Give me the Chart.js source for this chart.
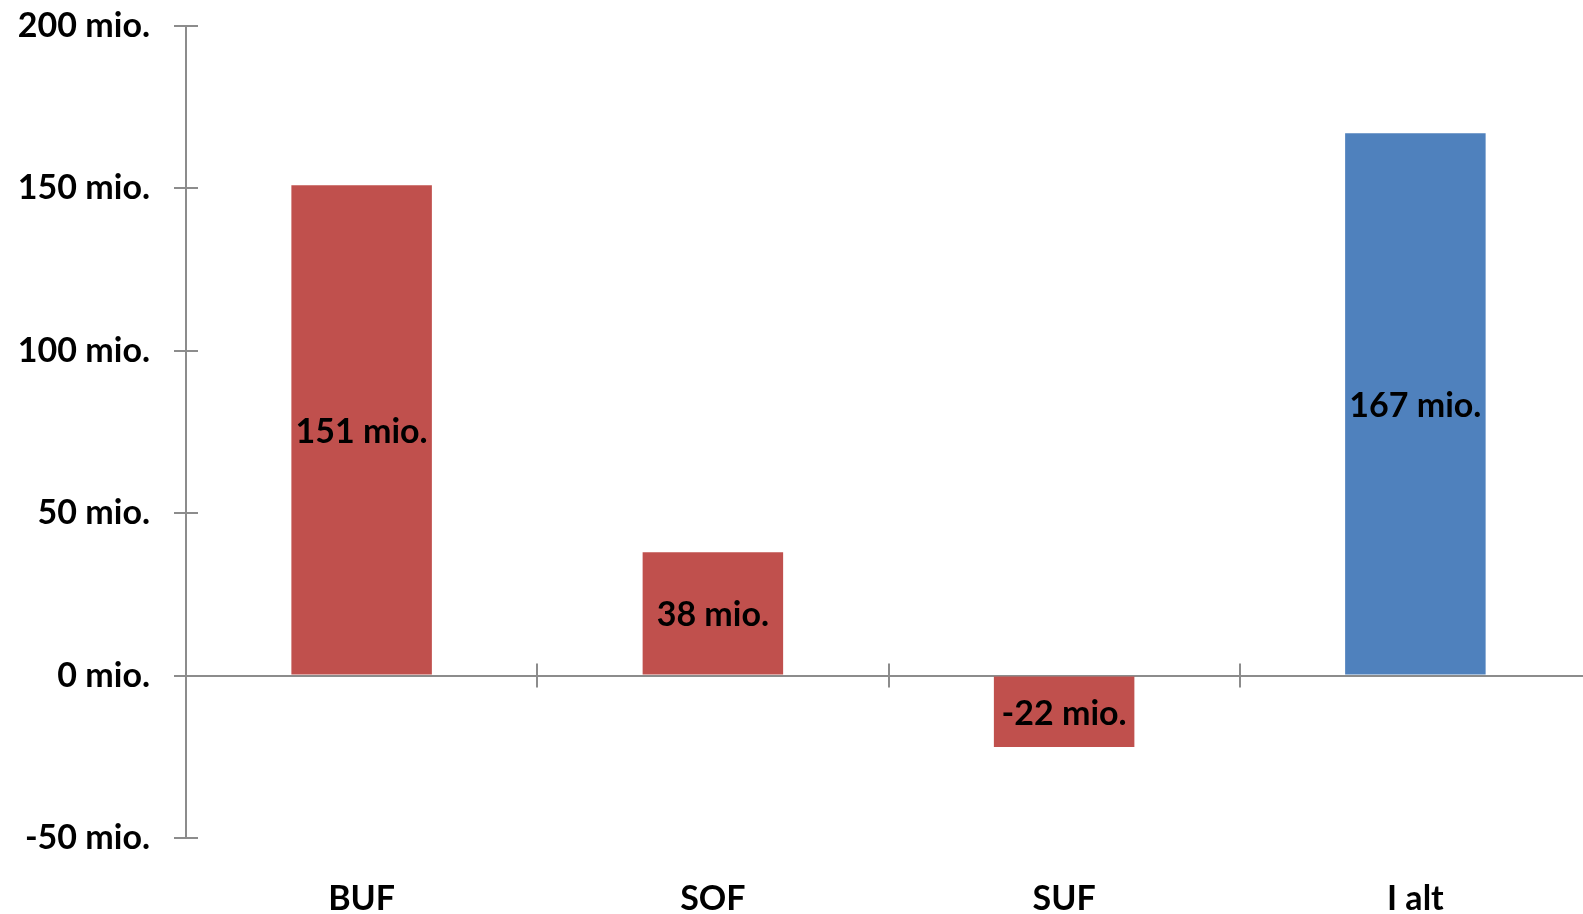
<!DOCTYPE html>
<html>
<head>
<meta charset="utf-8">
<script src="https://cdn.jsdelivr.net/npm/chart.js@4/dist/chart.umd.min.js"></script>
<style>
html,body{margin:0;padding:0;background:#fff;overflow:hidden;}
#wrap{width:1591px;height:914px;position:relative;}
</style>
</head>
<body>
<div id="wrap"><canvas id="c"></canvas></div>
<script>
const categories = ["BUF","SOF","SUF","I alt"];
const values = [151, 38, -22, 167];
const barColors = ["#C0504D","#C0504D","#C0504D","#4F81BD"];
const yTicks = [-50, 0, 50, 100, 150, 200];

const AXIS = "#8c8c8c";
const FONT = "Lato, 'Open Sans', sans-serif";
const fmt = v => v + " mio.";
const noPad = s => { s.paddingLeft = s.paddingRight = s.paddingTop = s.paddingBottom = 0; };

// crossing tick marks + category separators on the zero line
const crossTicks = {
  id: "crossTicks",
  afterDraw(chart){
    const {ctx, scales:{x, y}} = chart;
    const ax = x.left, zy = y.getPixelForValue(0);
    ctx.save(); ctx.strokeStyle = AXIS; ctx.lineWidth = 2;
    yTicks.forEach(v=>{ const py = Math.round(y.getPixelForValue(v));
      ctx.beginPath(); ctx.moveTo(ax-12, py); ctx.lineTo(ax+12, py); ctx.stroke(); });
    for(let i=1;i<categories.length;i++){
      const px = Math.round((x.getPixelForTick(i-1)+x.getPixelForTick(i))/2);
      ctx.beginPath(); ctx.moveTo(px, zy-12); ctx.lineTo(px, zy+12); ctx.stroke();
    }
    ctx.restore();
  }
};

// value labels in the middle of each bar
const barLabels = {
  id: "barLabels",
  afterDatasetsDraw(chart){
    const {ctx} = chart; const meta = chart.getDatasetMeta(0);
    ctx.save(); ctx.font = "bold 34px " + FONT; ctx.fillStyle = "#000";
    ctx.textAlign = "center"; ctx.textBaseline = "middle";
    meta.data.forEach((b,i)=>{ ctx.fillText(fmt(values[i]), b.x, (b.y+b.base)/2 + 2); });
    ctx.restore();
  }
};

new Chart(document.getElementById("c"), {
  type: "bar",
  data: { labels: categories, datasets: [{ data: values, backgroundColor: barColors,
    categoryPercentage: 1, barPercentage: 0.4 }] },
  options: {
    responsive: true, maintainAspectRatio: false, animation: false,
    layout: { padding: { top: 26, right: 0, left: 0, bottom: 0 } },
    plugins: { legend: { display: false }, tooltip: { enabled: false } },
    scales: {
      x: {
        grid: { display: false, drawTicks: false },
        border: { display: false },
        ticks: { color: "#000", font: { family: FONT, size: 34, weight: "bold" }, padding: 41 },
        afterFit: s => { s.height = 76; noPad(s); }
      },
      y: {
        min: -50, max: 200,
        afterBuildTicks: s => { s.ticks = yTicks.map(v=>({value:v})); },
        grid: { drawTicks: false, color: c => c.tick && c.tick.value === 0 ? AXIS : "transparent", lineWidth: 2 },
        border: { display: true, color: AXIS, width: 2 },
        ticks: { color: "#000", font: { family: FONT, size: 34, weight: "bold" }, padding: 36, callback: v => fmt(v) },
        afterFit: s => { s.width = 186; noPad(s); }
      }
    }
  },
  plugins: [crossTicks, barLabels]
});
</script>
</body>
</html>
